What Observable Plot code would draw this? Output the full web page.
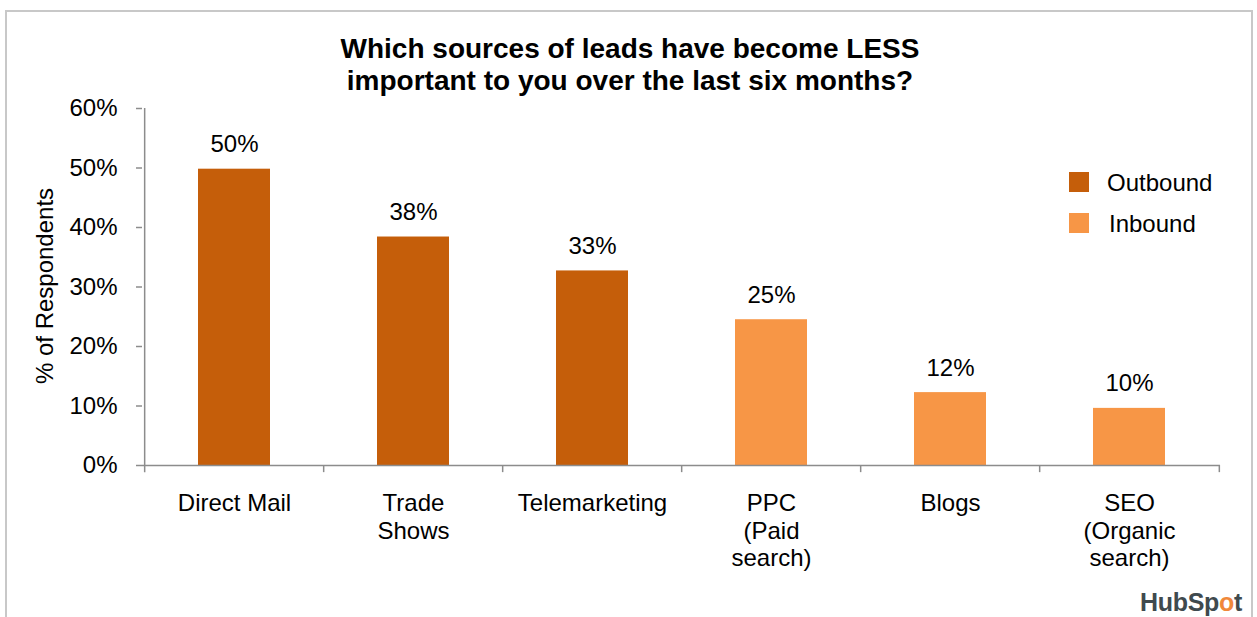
<!DOCTYPE html>
<html>
<head>
<meta charset="utf-8">
<script src="https://cdn.jsdelivr.net/npm/d3@7"></script>
<script src="https://cdn.jsdelivr.net/npm/@observablehq/plot@0.6"></script>
<style>
  html, body { margin: 0; padding: 0; background: #fff; }
  #wrap { position: relative; width: 1257px; height: 617px; overflow: hidden; font-family: "Liberation Sans", Arial, sans-serif; color: #000; }
  #frame { position: absolute; left: 5px; top: 10px; width: 1244px; height: 640px; border: 2px solid #c8c8c8; border-bottom: none; }
  #title { position: absolute; left: 280px; width: 700px; top: 33px; text-align: center; font-weight: bold; font-size: 28px; line-height: 32px; }
  #ylabel { position: absolute; left: 45px; top: 286px; transform: translate(-50%, -50%) rotate(-90deg); font-size: 24px; white-space: nowrap; }
  .leg { position: absolute; font-size: 24px; line-height: 20px; white-space: nowrap; }
  .sw { position: absolute; width: 20px; height: 20px; }
  #logo { position: absolute; left: 1140px; top: 588px; font-size: 25px; font-weight: bold; color: #3f4a4e; letter-spacing: -0.3px; }
  #chart { position: absolute; left: 0; top: 0; }
</style>
</head>
<body>
<div id="wrap">
  <div id="frame"></div>
  <div id="chart"></div>
  <div id="title">Which sources of leads have become LESS<br>important to you over the last six months?</div>
  <div id="ylabel">% of Respondents</div>
  <div id="legend"></div>
  <div id="logo">HubSp<span style="color:#f0883a">o</span>t</div>
</div>
<script>
const categories = ["Direct Mail", "Trade\nShows", "Telemarketing", "PPC\n(Paid\nsearch)", "Blogs", "SEO\n(Organic\nsearch)"];
const values = [0.498, 0.384, 0.327, 0.245, 0.1225, 0.096];
const valueLabels = ["50%", "38%", "33%", "25%", "12%", "10%"];
const groups = ["Outbound", "Outbound", "Outbound", "Inbound", "Inbound", "Inbound"];
const seriesNames = ["Outbound", "Inbound"];
const seriesColors = ["#c55e0a", "#f79646"];
const yTicks = [0, 0.1, 0.2, 0.3, 0.4, 0.5, 0.6];

const data = categories.map((c, i) => ({category: c, value: values[i], label: valueLabels[i], group: groups[i]}));

const W = 1257, H = 617, mL = 142, mR = 37, mT = 108, mB = 152;
const step = (W - mL - mR) / categories.length;
const axisColor = "#8c8c8c";

const plot = Plot.plot({
  width: W, height: H,
  marginLeft: mL, marginRight: mR, marginTop: mT, marginBottom: mB,
  style: {fontFamily: "'Liberation Sans', Arial, sans-serif", fontSize: "24px", color: "#000", background: "transparent", overflow: "visible"},
  x: {domain: categories, paddingInner: 0.6, paddingOuter: 0.3},
  y: {domain: [0, 0.6]},
  color: {domain: seriesNames, range: seriesColors},
  marks: [
    Plot.barY(data, {x: "category", y: "value", fill: "group"}),
    Plot.ruleY([0], {stroke: axisColor, strokeWidth: 1.5}),
    Plot.ruleX([categories[0]], {x: d => d, dx: -step / 2, y1: -0.012, y2: 0.6, stroke: axisColor, strokeWidth: 1.5}),
    Plot.ruleX(categories.slice(1), {x: d => d, dx: -step / 2, y1: -0.012, y2: 0, stroke: axisColor, strokeWidth: 1.5}),
    Plot.ruleX([categories[categories.length - 1]], {x: d => d, dx: step / 2, y1: -0.012, y2: 0, stroke: axisColor, strokeWidth: 1.5}),
    Plot.axisY({ticks: yTicks, tickFormat: d3.format(".0%"), tickSize: 6, tickPadding: 19, fontSize: 24, stroke: axisColor, strokeWidth: 1.5, label: null}),
    Plot.axisX({tickSize: 0, tickPadding: 26, fontSize: 24, lineHeight: 1.15, label: null}),
    Plot.text(data, {x: "category", y: "value", text: "label", dy: -17, lineAnchor: "bottom", fontSize: 24, fill: "#000"})
  ]
});
document.getElementById("chart").appendChild(plot);

// legend
const leg = document.getElementById("legend");
const legY = [172, 213];
const legTextX = [1107, 1109];
seriesNames.forEach((name, i) => {
  const sw = document.createElement("div");
  sw.className = "sw";
  sw.style.left = "1069px";
  sw.style.top = legY[i] + "px";
  sw.style.background = plot.scale("color").apply(name);
  leg.appendChild(sw);
  const t = document.createElement("div");
  t.className = "leg";
  t.style.left = legTextX[i] + "px";
  t.style.top = (legY[i] + 1) + "px";
  t.textContent = name;
  leg.appendChild(t);
});
</script>
</body>
</html>
